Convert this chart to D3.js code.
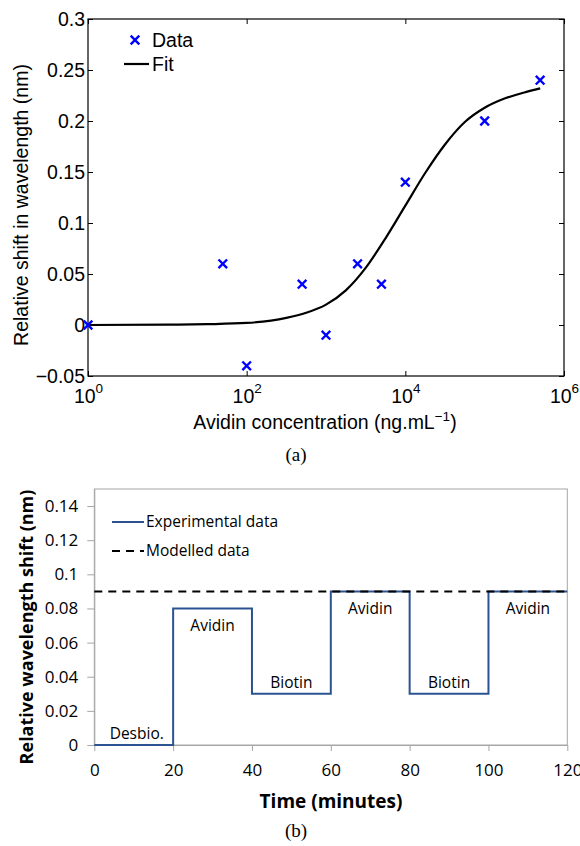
<!DOCTYPE html>
<html>
<head>
<meta charset="utf-8">
<script src="https://cdn.jsdelivr.net/npm/d3@7"></script>
<style>
  body { margin: 0; background: #fff; }
  svg { display: block; }
</style>
</head>
<body>
<svg width="580" height="846"></svg>
<script>
// (a) avidin concentration vs shift
const dataConc = [1, 50, 100, 500, 1000, 2500, 5000, 10000, 100000, 500000];
const dataShift = [0, 0.06, -0.04, 0.04, -0.01, 0.06, 0.04, 0.14, 0.2, 0.24];
const fitConc = [1, 10, 32, 100, 316, 562, 1000, 1778, 3162, 5623, 10000, 17783, 31623, 56234, 100000, 177828, 316228, 501187];
const fitShift = [0, 0.0003, 0.0008, 0.002, 0.007, 0.012, 0.02, 0.034, 0.056, 0.085, 0.117, 0.149, 0.177, 0.199, 0.213, 0.222, 0.228, 0.232];
const aYTicks = [-0.05, 0, 0.05, 0.1, 0.15, 0.2, 0.25, 0.3];
const aXTicks = [1, 100, 10000, 1000000];

// (b) time steps
const stepTime = [0, 20, 40, 60, 80, 100, 120];
const stepShift = [0, 0.08, 0.03, 0.09, 0.03, 0.09, 0.09];
const modelTime = [0, 120];
const modelShift = [0.09, 0.09];
const stepLabels = ["Desbio.", "Avidin", "Biotin", "Avidin", "Biotin", "Avidin"];
const bYTicks = [0, 0.02, 0.04, 0.06, 0.08, 0.1, 0.12, 0.14];
const bXTicks = [0, 20, 40, 60, 80, 100, 120];

const svg = d3.select('svg');

// ---------- chart (a) ----------
const ma = { left: 88, top: 19, width: 476, height: 357 };
const ga = svg.append('g').attr('transform', `translate(${ma.left},${ma.top})`);
const xa = d3.scaleLog().domain([1, 1e6]).range([0, ma.width]);
const ya = d3.scaleLinear().domain([-0.05, 0.3]).range([ma.height, 0]);
const fontA = "'Liberation Sans', Arial, sans-serif";
const sizeA = 19.5;

function styleA(g) {
    g.select('.domain').remove();
    g.selectAll('line').attr('stroke', '#000');
    g.selectAll('text').attr('font-family', fontA).attr('font-size', sizeA).attr('fill', '#000');
}

ga.append('g')
    .call(d3.axisLeft(ya).tickValues(aYTicks).tickSize(-5).tickPadding(3)
        .tickFormat(d => d === 0 ? '0' : (d < 0 ? '\u2212' : '') + String(Math.abs(d))))
    .call(styleA);
ga.append('g').attr('transform', `translate(${ma.width},0)`)
    .call(d3.axisRight(ya).tickValues(aYTicks).tickSize(-5).tickFormat(''))
    .call(styleA);
ga.append('g').attr('transform', `translate(0,${ma.height})`)
    .call(d3.axisBottom(xa).tickValues(aXTicks).tickSize(-5).tickPadding(13).tickFormat(''))
    .call(styleA)
    .selectAll('.tick text')
    .each(function (d) {
        const t = d3.select(this).text('');
        t.append('tspan').text('10');
        t.append('tspan').attr('dy', -10).attr('font-size', 13.5).text(Math.round(Math.log10(d)));
    });
ga.append('g')
    .call(d3.axisTop(xa).tickValues(aXTicks).tickSize(-5).tickFormat(''))
    .call(styleA);

ga.append('rect').attr('width', ma.width).attr('height', ma.height)
    .attr('fill', 'none').attr('stroke', '#000').attr('stroke-width', 1.2);

const fitLine = d3.line().x(d => xa(d[0])).y(d => ya(d[1])).curve(d3.curveMonotoneX);
ga.append('path')
    .datum(fitConc.map((c, i) => [c, fitShift[i]]))
    .attr('d', fitLine)
    .attr('fill', 'none').attr('stroke', '#000').attr('stroke-width', 2.2);

function cross(g, x, y, r) {
    g.append('path')
        .attr('d', `M${x - r},${y - r}L${x + r},${y + r}M${x - r},${y + r}L${x + r},${y - r}`)
        .attr('stroke', '#0000ff').attr('stroke-width', 2.4).attr('fill', 'none');
}
dataConc.forEach((c, i) => cross(ga, xa(c), ya(dataShift[i]), 4.3));

// legend (a)
cross(svg, 135, 40, 4.3);
svg.append('text').attr('x', 152).attr('y', 47).text('Data')
    .attr('font-family', fontA).attr('font-size', sizeA);
svg.append('line').attr('x1', 124).attr('x2', 149).attr('y1', 64).attr('y2', 64)
    .attr('stroke', '#000').attr('stroke-width', 2.2);
svg.append('text').attr('x', 152).attr('y', 71).text('Fit')
    .attr('font-family', fontA).attr('font-size', sizeA);

// axis labels (a)
const xla = svg.append('text').attr('x', 325).attr('y', 429).attr('text-anchor', 'middle')
    .attr('font-family', fontA).attr('font-size', sizeA);
xla.append('tspan').text('Avidin concentration (ng.mL');
xla.append('tspan').attr('dy', -8).attr('font-size', 13.5).text('\u22121');
xla.append('tspan').attr('dy', 8).text(')');
svg.append('text').attr('transform', 'translate(28,205) rotate(-90)').attr('text-anchor', 'middle')
    .attr('font-family', fontA).attr('font-size', sizeA).text('Relative shift in wavelength (nm)');
svg.append('text').attr('x', 296).attr('y', 461).attr('text-anchor', 'middle')
    .attr('font-family', "'Liberation Serif', 'DejaVu Serif', serif").attr('font-size', 19).text('(a)');

// ---------- chart (b) ----------
const mb = { left: 94.3, top: 489, width: 473, height: 256 };
const gb = svg.append('g').attr('transform', `translate(${mb.left},${mb.top})`);
const xb = d3.scaleLinear().domain([0, 120]).range([0, mb.width]);
const yb = d3.scaleLinear().domain([0, 0.15]).range([mb.height, 0]);
const fontB = "'Open Sans', Lato, sans-serif";
const grey = '#a6a6a6';
const sizeB = 15.5;

gb.append('rect').attr('width', mb.width).attr('height', mb.height)
    .attr('fill', 'none').attr('stroke', grey).attr('stroke-width', 1);

function styleB(g) {
    g.selectAll('.domain').attr('stroke', grey);
    g.selectAll('line').attr('stroke', grey);
    g.selectAll('text').attr('font-family', fontB).attr('font-size', 17).attr('fill', '#000');
}
gb.append('g')
    .call(d3.axisLeft(yb).tickValues(bYTicks).tickSize(7).tickSizeOuter(0).tickPadding(9)
        .tickFormat(d => d === 0 ? '0' : String(+d.toFixed(2))))
    .call(styleB);
gb.append('g').attr('transform', `translate(0,${mb.height})`)
    .call(d3.axisBottom(xb).tickValues(bXTicks).tickSize(6).tickSizeOuter(0).tickPadding(13).tickFormat(d3.format('d')))
    .call(styleB);

const stepLine = d3.line().x(d => xb(d[0])).y(d => yb(d[1])).curve(d3.curveStepAfter);
gb.append('path')
    .datum(stepTime.map((t, i) => [t, stepShift[i]]))
    .attr('d', stepLine)
    .attr('fill', 'none').attr('stroke', '#2c5391').attr('stroke-width', 2);
gb.append('path')
    .datum(modelTime.map((t, i) => [t, modelShift[i]]))
    .attr('d', d3.line().x(d => xb(d[0])).y(d => yb(d[1])))
    .attr('fill', 'none').attr('stroke', '#000').attr('stroke-width', 2).attr('stroke-dasharray', '8,6');

// step labels: above low steps, below high steps
stepLabels.forEach((lab, i) => {
    const v = stepShift[i];
    const high = v > 0.05;
    gb.append('text')
        .attr('x', xb((stepTime[i] + stepTime[i + 1]) / 2) + (i === 0 ? 3 : 0))
        .attr('y', high ? yb(v) + 23 : yb(v) - 6)
        .attr('text-anchor', 'middle')
        .attr('font-family', fontB).attr('font-size', sizeB).text(lab);
});

// legend (b)
svg.append('line').attr('x1', 112).attr('x2', 144).attr('y1', 522).attr('y2', 522)
    .attr('stroke', '#2c5391').attr('stroke-width', 2);
svg.append('text').attr('x', 146).attr('y', 527).text('Experimental data')
    .attr('font-family', fontB).attr('font-size', sizeB);
svg.append('line').attr('x1', 112).attr('x2', 144).attr('y1', 551).attr('y2', 551)
    .attr('stroke', '#000').attr('stroke-width', 2).attr('stroke-dasharray', '8,6');
svg.append('text').attr('x', 146).attr('y', 556).text('Modelled data')
    .attr('font-family', fontB).attr('font-size', sizeB);

// axis labels (b)
svg.append('text').attr('x', 331).attr('y', 808).attr('text-anchor', 'middle')
    .attr('font-family', fontB).attr('font-size', 19).attr('font-weight', 'bold').text('Time (minutes)');
svg.append('text').attr('transform', 'translate(33,627) rotate(-90)').attr('text-anchor', 'middle')
    .attr('font-family', fontB).attr('font-size', 18).attr('font-weight', 'bold').text('Relative wavelength shift (nm)');
svg.append('text').attr('x', 296).attr('y', 837).attr('text-anchor', 'middle')
    .attr('font-family', "'Liberation Serif', 'DejaVu Serif', serif").attr('font-size', 19).text('(b)');
</script>
</body>
</html>
